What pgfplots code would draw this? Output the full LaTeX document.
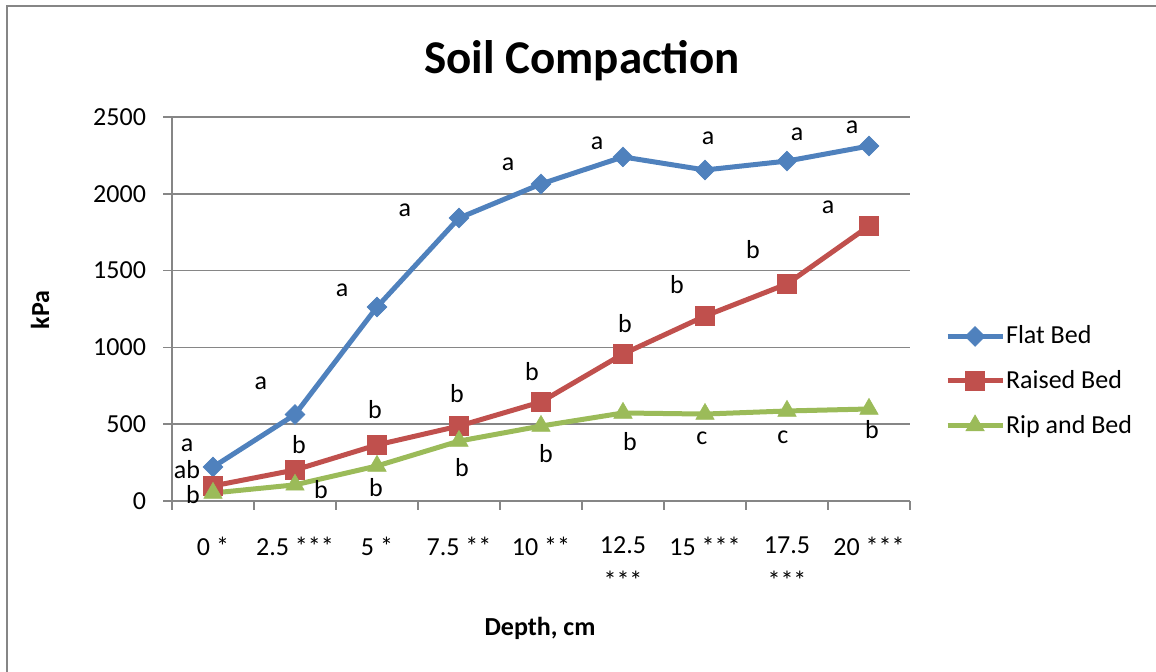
\documentclass[border=0pt]{standalone}
\usepackage{fontspec}
\setmainfont{Carlito}
\usepackage{pgfplots}
\pgfplotsset{compat=1.18}
\definecolor{cblue}{HTML}{4F81BD}
\definecolor{cred}{HTML}{C0504D}
\definecolor{cgreen}{HTML}{9BBB59}
\definecolor{cgrid}{HTML}{868686}
\newcommand{\tf}{\fontsize{13}{15}\selectfont}
\begin{document}
\begin{tikzpicture}
\useasboundingbox (0,0) rectangle (578pt,336pt);
\draw[cgrid,line width=1.2pt] (3.5pt,0) -- (3.5pt,333pt) -- (578pt,333pt);
\begin{axis}[
  at={(86pt,85.5pt)}, anchor=south west,
  scale only axis, width=369pt, height=192pt,
  xmin=-0.5, xmax=8.5, ymin=0, ymax=2500,
  ytick={0,500,...,2500},
  xtick={0,...,8},
  xticklabels={0 *, 2.5 ***, 5 *, 7.5 **, 10 **, {12.5\\***}, 15 ***, {17.5\\***}, 20 ***},
  minor xtick={-0.5,0.5,...,8.5},
  axis lines=left,
  axis line style={-, cgrid, line width=0.75pt},
  tick align=outside,
  major tick length=4.5pt,
  minor tick length=4.5pt,
  major x tick style={draw=none},
  minor x tick style={cgrid, line width=0.75pt},
  major y tick style={cgrid, line width=0.75pt},
  ymajorgrids,
  major grid style={cgrid, line width=0.75pt},
  tick label style={font=\tf},
  /pgf/number format/assume math mode=true,
  /pgf/number format/set thousands separator={},
  yticklabel style={xshift=-5pt},
  xticklabel style={align=center, yshift=-10pt, font=\fontsize{13}{18}\selectfont},
  clip=false,
  legend style={at={(1.047,0.3125)}, anchor=west, draw=none, fill=none,
    font=\tf, row sep=10.75pt, cells={anchor=west},
    nodes={inner sep=0.5pt}, inner xsep=0pt},
  legend image code/.code={
    \draw[mark repeat=2,mark phase=2] plot coordinates {(0pt,0pt) (13.75pt,0pt) (27.5pt,0pt)};
  },
]
\addplot[cblue, line width=2.5pt, mark=square*, mark size=3.5pt,
  mark options={rotate=45, solid, fill=cblue, line width=0.3pt}]
  coordinates {(0,221) (1,563) (2,1263) (3,1842) (4,2064) (5,2240) (6,2155) (7,2213) (8,2311)};
\addlegendentry{Flat Bed}
\addplot[cred, line width=2.5pt, mark=square*, mark size=4.7pt,
  mark options={solid, fill=cred, line width=0.3pt}]
  coordinates {(0,98) (1,202) (2,365) (3,488) (4,645) (5,957) (6,1204) (7,1413) (8,1790)};
\addlegendentry{Raised Bed}
\addplot[cgreen, line width=2.5pt, mark=triangle*, mark size=5.3pt,
  mark options={solid, fill=cgreen, line width=0.3pt}]
  coordinates {(0,52) (1,105) (2,228) (3,390) (4,488) (5,573) (6,566) (7,586) (8,599)};
\addlegendentry{Rip and Bed}
% letter labels
\begin{scope}[every node/.style={font=\tf, inner sep=0pt}]
\node at (axis cs:-0.317,365) {a};
\node at (axis cs:0.585,768) {a};
\node at (axis cs:1.573,1374) {a};
\node at (axis cs:2.341,1895) {a};
\node at (axis cs:3.598,2194) {a};
\node at (axis cs:4.683,2331) {a};
\node at (axis cs:6.037,2363) {a};
\node at (axis cs:7.122,2389) {a};
\node at (axis cs:7.793,2435) {a};
\node at (axis cs:-0.317,205) {ab};
\node at (axis cs:1.049,365) {b};
\node at (axis cs:1.976,592) {b};
\node at (axis cs:2.976,697) {b};
\node at (axis cs:3.890,840) {b};
\node at (axis cs:5.024,1152) {b};
\node at (axis cs:5.659,1406) {b};
\node at (axis cs:6.585,1634) {b};
\node at (axis cs:7.5,1914) {a};
\node at (axis cs:-0.244,42) {b};
\node at (axis cs:1.317,72) {b};
\node at (axis cs:1.988,85) {b};
\node at (axis cs:3.037,215) {b};
\node at (axis cs:4.061,306) {b};
\node at (axis cs:5.085,384) {b};
\node at (axis cs:5.963,410) {c};
\node at (axis cs:6.951,417) {c};
\node at (axis cs:8.037,462) {b};
\end{scope}
\end{axis}
\node[font=\fontsize{23.5}{28}\selectfont\bfseries] at (291pt,305.5pt) {Soil Compaction};
\node[font=\tf\bfseries, rotate=90] at (20pt,181pt) {kPa};
\node[font=\tf\bfseries] at (270pt,22pt) {Depth, cm};
\end{tikzpicture}
\end{document}
